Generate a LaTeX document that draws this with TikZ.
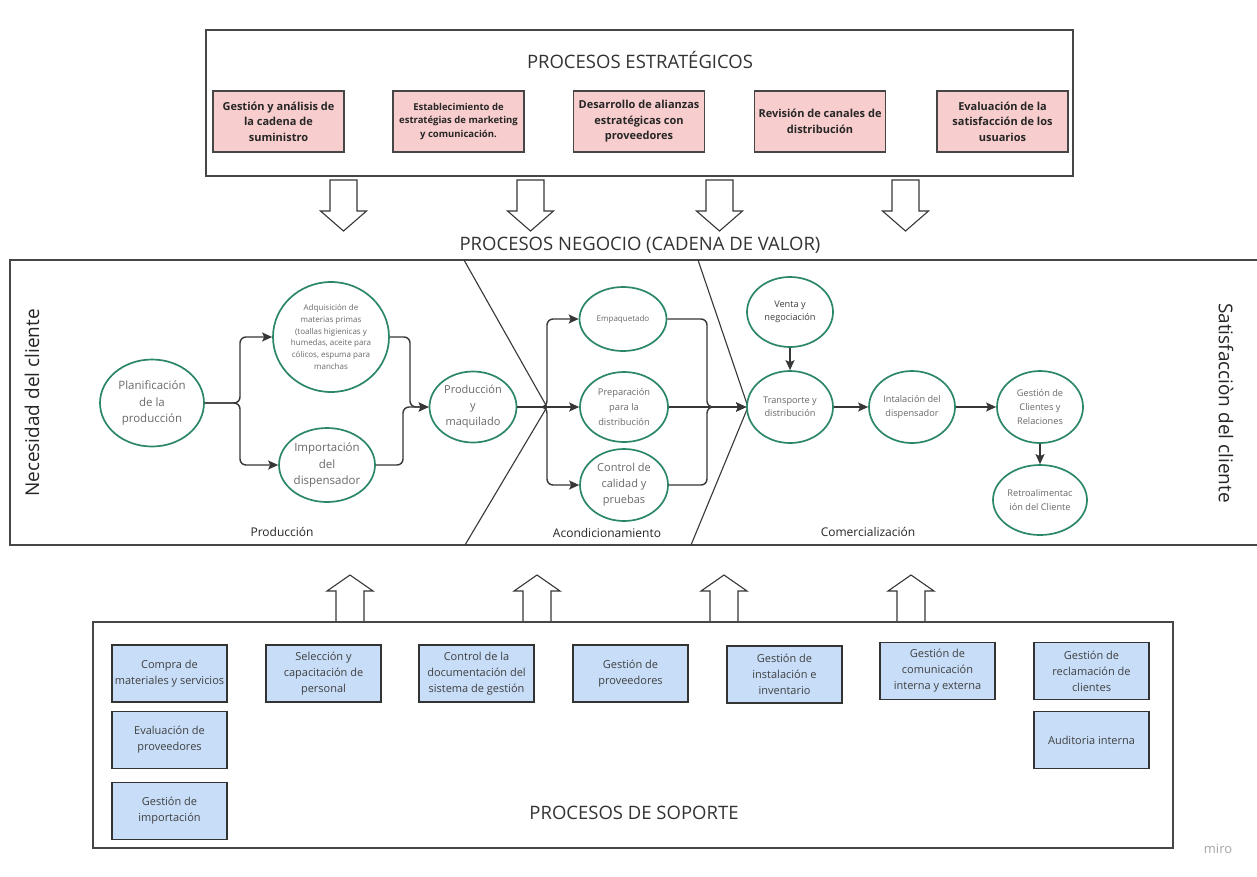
\documentclass[tikz,border=0pt]{standalone}
\usepackage{fontspec}
\setmainfont{Open Sans}
\usetikzlibrary{arrows.meta,shapes.geometric,calc}
\definecolor{elgreen}{RGB}{44,135,104}
\definecolor{txtgray}{RGB}{105,105,105}
\definecolor{linegray}{RGB}{55,55,55}
\definecolor{framegray}{RGB}{70,70,70}
\definecolor{pinkfill}{RGB}{248,205,205}
\definecolor{bluefill}{RGB}{199,221,248}
\newcommand\myfs[2]{\fontsize{#1}{#2}\selectfont}
\begin{document}
\begin{tikzpicture}[x=1pt,y=-1pt,
  frame/.style={draw=framegray,line width=1.6pt},
  titletext/.style={text=black!80,font=\myfs{18.5}{22}},
  pinkbox/.style={draw=framegray,line width=1.3pt,fill=pinkfill,minimum width=131,minimum height=61,
    align=center,inner sep=1pt,text=black!85,font=\myfs{11}{15.5}\bfseries},
  bluebox/.style={draw=black!80,line width=1.3pt,fill=bluefill,minimum width=115,minimum height=57,
    align=center,inner sep=1pt,text=black!75,font=\myfs{11}{16}},
  ell/.style={ellipse,draw=elgreen,line width=1.7pt,fill=white,align=center,inner sep=0pt,text=txtgray},
  flow/.style={draw=linegray,line width=1.4pt,rounded corners=6pt,-{Stealth[length=10pt,width=9pt,inset=2pt]}},
  chev/.style={draw=linegray,line width=1.1pt},
  hollow/.style={draw=linegray,line width=1.1pt,fill=white,line join=miter},
  sectlabel/.style={text=black!85,font=\myfs{12}{14}},
  sidelabel/.style={text=black!85,font=\myfs{19}{22}}
]
\useasboundingbox (0,0) rectangle (1257,876);
\fill[white] (0,0) rectangle (1257,876);

% ---------- strategic processes ----------
\draw[frame] (206,30) rectangle (1073,176);
\node[titletext] (tstrat) at (640,60) {PROCESOS ESTRATÉGICOS};
\node[pinkbox] (e1) at (278.5,121.5) {Gestión y análisis de\\la cadena de\\suministro};
\node[pinkbox,font=\myfs{9.5}{13.5}\bfseries] (e2) at (458.5,121.5) {Establecimiento de\\estratégias de marketing\\y comunicación.};
\node[pinkbox] (e3) at (639,121.5) {Desarrollo de alianzas\\estratégicas con\\proveedores};
\node[pinkbox] (e4) at (820,121.5) {Revisión de canales de\\distribución};
\node[pinkbox] (e5) at (1002.5,121.5) {Evaluación de la\\satisfacción de los\\usuarios};

% hollow down arrows
\foreach \cx in {343.5,530.5,719.5,905.5}
  \draw[hollow] (\cx-13.5,180) -- (\cx+13.5,180) -- (\cx+13.5,211) -- (\cx+23,211) -- (\cx,231)
     -- (\cx-23,211) -- (\cx-13.5,211) -- cycle;

% ---------- value chain ----------
\node[titletext] (tneg) at (640,245) {PROCESOS NEGOCIO (CADENA DE VALOR)};
\draw[frame] (10,260) rectangle (1265,545);

\coordinate (c1t) at (464,260);
\coordinate (c1m) at (547,407);
\coordinate (c1b) at (465,545);
\coordinate (c2t) at (698,260);
\coordinate (c2m) at (748,407);
\coordinate (c2b) at (691,545);
\draw[chev] (c1t) -- (c1m) -- (c1b);
\draw[chev] (c2t) -- (c2m) -- (c2b);

\node[sidelabel,rotate=90] (necesidad) at (32,403) {Necesidad del cliente};
\node[sidelabel,rotate=-90] (satisf) at (1226,403) {Satisfacciòn del cliente};

\node[ell,minimum width=104,minimum height=87,font=\myfs{11.5}{16.5}] (plan) at (152,403) {Planificación\\de la\\producción};
\node[ell,minimum width=116,minimum height=110,font=\myfs{8}{11.7}] (adq) at (331,337) {Adquisición de\\materias primas\\(toallas higienicas y\\humedas, aceite para\\cólicos, espuma para\\manchas};
\node[ell,minimum width=96,minimum height=74,font=\myfs{11.5}{16.5}] (imp) at (327,465) {Importación\\del\\dispensador};
\node[ell,minimum width=87,minimum height=71,font=\myfs{11}{16}] (prod) at (473,407) {Producción\\y\\maquilado};
\node[ell,minimum width=87,minimum height=64,font=\myfs{8}{11}] (emp) at (623,319) {Empaquetado};
\node[ell,minimum width=88,minimum height=70,font=\myfs{9.3}{15}] (prep) at (624,407) {Preparación\\para la\\distribución};
\node[ell,minimum width=88,minimum height=72,font=\myfs{11}{16}] (ctrl) at (624,485) {Control de\\calidad y\\pruebas};
\node[ell,minimum width=86,minimum height=70,font=\myfs{9.2}{13.5},text=black!75] (venta) at (790,312) {Venta y\\negociación};
\node[ell,minimum width=86,minimum height=72,font=\myfs{9.2}{13.5}] (trans) at (790,407) {Transporte y\\distribución};
\node[ell,minimum width=86,minimum height=72,font=\myfs{9.2}{13.5}] (inst) at (912,407) {Intalación del\\dispensador};
\node[ell,minimum width=86,minimum height=72,font=\myfs{9.2}{14}] (gest) at (1040,407) {Gestión de\\Clientes y\\Relaciones};
\node[ell,minimum width=94,minimum height=70,font=\myfs{9.2}{13.5}] (retro) at (1040,500) {Retroalimentac\\ión del Cliente};

\node[sectlabel] (lprod) at (282,532) {Producción};
\node[sectlabel] (lacond) at (607,533) {Acondicionamiento};
\node[sectlabel] (lcom) at (868,532) {Comercialización};

% connectors
\coordinate (j1) at (240,403);
\coordinate (ja) at (410,407);
\coordinate (jb) at (403,407);
\coordinate (j2) at (547,407);
\coordinate (j3) at (707,407);
\draw[flow] (plan.east) -- (j1) |- (adq.west);
\draw[flow] (plan.east) -- (j1) |- (imp.west);
\draw[flow] (adq.east) -| (ja) -- (prod.west);
\draw[flow] (imp.east) -| (jb) -- (prod.west);
\draw[flow] (prod.east) -- (j2) |- (emp.west);
\draw[flow] (prod.east) -- (prep.west);
\draw[flow] (prod.east) -- (j2) |- (ctrl.west);
\draw[flow] (emp.east) -| (j3) -- (trans.west);
\draw[flow] (prep.east) -- (trans.west);
\draw[flow] (ctrl.east) -| (j3) -- (trans.west);
\draw[flow] (venta.south) -- (trans.north);
\draw[flow] (trans.east) -- (inst.west);
\draw[flow] (inst.east) -- (gest.west);
\draw[flow] (gest.south) -- (retro.north);

% hollow up arrows
\foreach \cx in {350,537,724,911}
  \draw[hollow] (\cx-14,622) -- (\cx+14,622) -- (\cx+14,591) -- (\cx+23,591) -- (\cx,575)
     -- (\cx-23,591) -- (\cx-14,591) -- cycle;

% ---------- support processes ----------
\draw[frame] (93,622) rectangle (1173,848);
\node[bluebox] (b1) at (169.5,673.5) {Compra de\\materiales y servicios};
\node[bluebox] (b2) at (323.5,673.5) {Selección y\\capacitación de\\personal};
\node[bluebox] (b3) at (476.5,673.5) {Control de la\\documentación del\\sistema de gestión};
\node[bluebox] (b4) at (630.5,673.5) {Gestión de\\proveedores};
\node[bluebox] (b5) at (784.5,674.5) {Gestión de\\instalación e\\inventario};
\node[bluebox] (b6) at (937.5,671) {Gestión de\\comunicación\\interna y externa};
\node[bluebox] (b7) at (1091.5,671) {Gestión de\\reclamación de\\clientes};
\node[bluebox] (b8) at (169.5,740) {Evaluación de\\proveedores};
\node[bluebox] (b9) at (1091.5,740) {Auditoria interna};
\node[bluebox] (b10) at (169.5,811) {Gestión de\\importación};
\node[titletext] (tsop) at (634,813) {PROCESOS DE SOPORTE};

\node[text=black!35,font=\myfs{13}{15}] (miro) at (1218,849) {miro};
\end{tikzpicture}
\end{document}
